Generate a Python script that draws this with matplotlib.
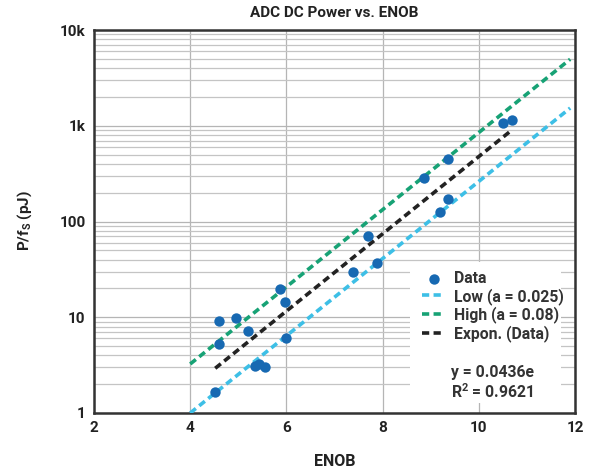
import matplotlib
matplotlib.use("Agg")
import matplotlib.pyplot as plt
from matplotlib.patches import Rectangle
from matplotlib.ticker import FixedLocator, NullFormatter, LogLocator

plt.rcParams['font.family'] = ['Roboto', 'DejaVu Sans']

# Data
enob = [4.52, 4.60, 4.60, 4.95, 5.20, 5.35, 5.42, 5.56, 5.87, 5.97, 6.00,
        7.39, 7.70, 7.88, 8.86, 9.20, 9.37, 9.37, 10.50, 10.69]
p_fs = [1.66, 9.1, 5.25, 9.8, 7.2, 3.12, 3.25, 3.05, 19.6, 14.5, 6.1,
        29.5, 71, 36.6, 283, 126, 171, 446, 1060, 1148]

# Reference lines (endpoints)
low_x = [4.0, 11.9]
low_y = [1.0, 1530]
high_x = [4.0, 11.9]
high_y = [3.25, 4950]
fit_x = [4.52, 10.66]
fit_y = [2.93, 880]

x_ticks = [2, 4, 6, 8, 10, 12]
y_ticks = [1, 10, 100, 1000, 10000]
y_ticklabels = ['1', '10', '100', '1k', '10k']

W, H = 591, 474
fig = plt.figure(figsize=(W / 100, H / 100), dpi=100)
ax = fig.add_axes([94 / W, 1 - 413 / H, (575 - 94) / W, (413 - 30) / H])

c_data = '#1769b2'
c_low = '#3dbfe6'
c_high = '#17a275'
c_fit = '#222222'

ax.set_xscale('linear')
ax.set_yscale('log')
ax.set_xlim(2, 12)
ax.set_ylim(1, 10000)

ax.xaxis.set_major_locator(FixedLocator(x_ticks))
ax.set_xticklabels([str(t) for t in x_ticks])
ax.yaxis.set_major_locator(FixedLocator(y_ticks))
ax.set_yticklabels(y_ticklabels)
ax.yaxis.set_minor_locator(LogLocator(base=10, subs=range(2, 10)))
ax.yaxis.set_minor_formatter(NullFormatter())

ax.grid(True, which='major', axis='both', color='#b5b5b5', lw=0.9, zorder=0)
ax.grid(True, which='minor', axis='y', color='#c4c4c4', lw=0.9, zorder=0)
ax.tick_params(which='both', length=0, pad=6, labelsize=11)
for lab in ax.get_xticklabels() + ax.get_yticklabels():
    lab.set_fontweight('bold')
    lab.set_color('#222222')
for sp in ax.spines.values():
    sp.set_linewidth(1.8)
    sp.set_color('#333333')

dash = (2.0, 1.2)
ax.plot(low_x, low_y, color=c_low, lw=2.6, dashes=dash, zorder=3, label='Low (a = 0.025)')
ax.plot(high_x, high_y, color=c_high, lw=2.6, dashes=dash, zorder=3, label='High (a = 0.08)')
ax.plot(fit_x, fit_y, color=c_fit, lw=2.6, dashes=dash, zorder=3, label='Expon. (Data)')
ax.scatter(enob, p_fs, s=56, color=c_data, zorder=4, linewidths=0, label='Data')

# white legend box
x0 = (410 - 94) / 481
x1 = (561 - 94) / 481
y0 = (413 - 403) / 383
y1 = (413 - 262) / 383
ax.add_patch(Rectangle((x0, y0), x1 - x0, y1 - y0, transform=ax.transAxes,
                       facecolor='white', edgecolor='none', zorder=5))

handles, labels = ax.get_legend_handles_labels()
order = [3, 0, 1, 2]
leg = ax.legend([handles[i] for i in order], [labels[i] for i in order],
                loc='upper left', bbox_to_anchor=((414 - 94) / 481, (413 - 263) / 383),
                frameon=False, borderpad=0, handlelength=1.5, handletextpad=0.55,
                labelspacing=0.12, prop={'size': 11.3, 'weight': 'bold'})
leg.set_zorder(6)
for t in leg.get_texts():
    t.set_color('#333333')

ax.text((451 - 94) / 481, (413 - 373) / 383, 'y = 0.0436e', transform=ax.transAxes,
        fontsize=11.3, fontweight='bold', color='#333333', va='center', ha='left', zorder=7)
ax.text((451 - 94) / 481, (413 - 392) / 383, 'R$^\\mathregular{2}$ = 0.9621', transform=ax.transAxes,
        fontsize=11.3, fontweight='bold', color='#333333', va='center', ha='left', zorder=7)

fig.text(334 / W, 1 - 13 / H, 'ADC DC Power vs. ENOB', ha='center', va='center',
         fontsize=11, fontweight='bold', color='#222222')
fig.text(335 / W, 1 - 462 / H, 'ENOB', ha='center', va='center',
         fontsize=11.5, fontweight='bold', color='#222222')
fig.text(25 / W, 1 - 220 / H, 'P/f$_\\mathregular{S}$ (pJ)', ha='center', va='center',
         rotation=90, fontsize=11, fontweight='bold', color='#222222')

fig.savefig('out.png', dpi=100, facecolor='white')
